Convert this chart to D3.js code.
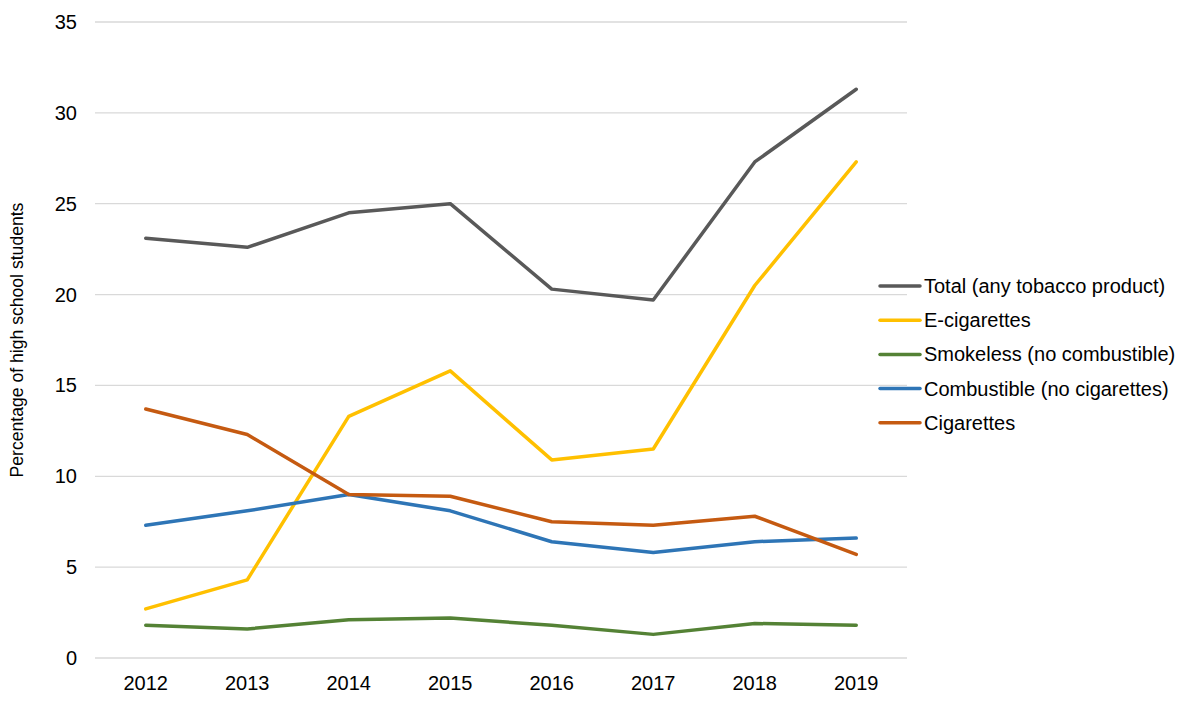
<!DOCTYPE html>
<html><head><meta charset="utf-8">
<script src="https://cdn.jsdelivr.net/npm/d3@7"></script>
<style>body{margin:0;background:#fff;} svg{display:block;font-family:"Liberation Sans",Arial,sans-serif;}</style>
</head><body>
<svg id="c" width="1200" height="709"></svg>
<script>
const years = ["2012","2013","2014","2015","2016","2017","2018","2019"];
const seriesNames = ["Total (any tobacco product)","E-cigarettes","Smokeless (no combustible)","Combustible (no cigarettes)","Cigarettes"];
const seriesColors = ["#595959","#FFC000","#548235","#2E75B6","#C55A11"];
const total = [23.1,22.6,24.5,25.0,20.3,19.7,27.3,31.3];
const ecig = [2.7,4.3,13.3,15.8,10.9,11.5,20.5,27.3];
const smokeless = [1.8,1.6,2.1,2.2,1.8,1.3,1.9,1.8];
const combustible = [7.3,8.1,9.0,8.1,6.4,5.8,6.4,6.6];
const cigarettes = [13.7,12.3,9.0,8.9,7.5,7.3,7.8,5.7];
const yTicks = [0,5,10,15,20,25,30,35];
const allSeries = [total,ecig,smokeless,combustible,cigarettes];

const svg = d3.select("#c");
const L=95, R=907, T=22, B=658;
const x = d3.scaleBand().domain(years).range([L,R]);
const y = d3.scaleLinear().domain([0,35]).range([B,T]);

svg.append("g").selectAll("line").data(yTicks).join("line")
  .attr("x1",L).attr("x2",R).attr("y1",d=>y(d)).attr("y2",d=>y(d))
  .attr("stroke","#d9d9d9").attr("stroke-width",1.3);

svg.append("g").selectAll("text").data(yTicks).join("text")
  .attr("x",77).attr("y",d=>y(d)).attr("dy","0.35em").attr("text-anchor","end")
  .attr("font-size",20).attr("fill","#000").text(d=>d);

svg.append("g").selectAll("text").data(years).join("text")
  .attr("x",d=>x(d)+x.bandwidth()/2).attr("y",690).attr("text-anchor","middle")
  .attr("font-size",20).attr("fill","#000").text(d=>d);

svg.append("text").attr("transform","translate(23,340) rotate(-90)")
  .attr("text-anchor","middle").attr("font-size",17.6).attr("fill","#000")
  .text("Percentage of high school students");

const line = d3.line().x((d,i)=>x(years[i])+x.bandwidth()/2).y(d=>y(d));
[2,1,3,4,0].forEach(k=>{
  svg.append("path").datum(allSeries[k]).attr("d",line).attr("fill","none")
    .attr("stroke",seriesColors[k]).attr("stroke-width",3.5)
    .attr("stroke-linejoin","round").attr("stroke-linecap","round");
});

const lg = svg.append("g").selectAll("g").data(seriesNames).join("g")
  .attr("transform",(d,i)=>`translate(880,${286+i*34.2})`);
lg.append("line").attr("x1",0).attr("x2",40).attr("stroke",(d,i)=>seriesColors[i])
  .attr("stroke-width",3.5).attr("stroke-linecap","round");
lg.append("text").attr("x",44).attr("dy","0.35em").attr("font-size",20).attr("fill","#000").text(d=>d);
</script>
</body></html>
